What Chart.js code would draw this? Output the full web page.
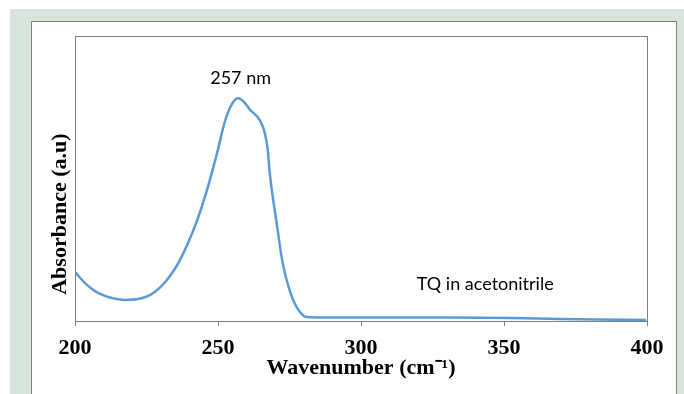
<!DOCTYPE html>
<html>
<head>
<meta charset="utf-8">
<title>TQ absorbance</title>
<script src="https://cdn.jsdelivr.net/npm/chart.js"></script>
<style>
  html, body { margin: 0; padding: 0; background: #fff; }
  #wrap { position: relative; width: 684px; height: 394px; overflow: hidden; }
  #green { position: absolute; left: 10px; top: 9px; right: 0; bottom: 0; background: #d6e4da; }
  #panel { position: absolute; left: 31px; top: 21px; width: 644px; height: 400px; background: #fff; border: 1px solid #7f7f7f; }
  canvas { position: absolute; left: 0; top: 0; }
</style>
</head>
<body>
<div id="wrap">
  <div id="green"></div>
  <div id="panel"></div>
  <canvas id="chart" width="684" height="394"></canvas>
</div>
<script>
// wavelength (nm)
const wavelengths = [200, 203.5, 207.0, 210.5, 214.0, 217.5, 222.0, 226.2, 229.7, 233.2, 236.6, 242.6, 246.1, 249.9, 252.4, 254.8, 256.9, 259.0, 261.1, 264.6, 266.3, 267.4, 268.1, 270.5, 272.6, 275.0, 277.5, 281.0, 289, 313.4, 331, 351.8, 369.3, 383.2, 399.7];
// absorbance (a.u), 0 = baseline of the plot, 1 = top of plot
const absorbance = [0.172, 0.133, 0.105, 0.088, 0.078, 0.074, 0.077, 0.091, 0.117, 0.158, 0.212, 0.350, 0.458, 0.598, 0.700, 0.760, 0.782, 0.770, 0.742, 0.705, 0.662, 0.600, 0.519, 0.344, 0.204, 0.109, 0.049, 0.014, 0.012, 0.012, 0.012, 0.0105, 0.007, 0.005, 0.0035];
const xTicks = [200, 250, 300, 350, 400];
const yTitle = 'Absorbance (a.u)';
const labels = [
  { text: '257 nm', x: 257.9, y: 0.853, align: 'center' },
  { text: 'TQ in acetonitrile', x: 319.5, y: 0.13, align: 'left' }
];

const points = wavelengths.map((w, i) => ({ x: w, y: absorbance[i] }));

const extras = {
  id: 'extras',
  afterDraw(chart) {
    const { ctx, chartArea: a, scales } = chart;
    ctx.save();
    ctx.strokeStyle = '#7f7f7f';
    ctx.lineWidth = 1;
    ctx.strokeRect(a.left + 0.5, a.top + 0.5, a.right - a.left, a.bottom - a.top);
    ctx.fillStyle = '#000';
    ctx.font = '18px Lato';
    ctx.textBaseline = 'middle';
    labels.forEach(l => {
      ctx.textAlign = l.align;
      ctx.fillText(l.text, scales.x.getPixelForValue(l.x), scales.y.getPixelForValue(l.y));
    });
    // y title sits a bit below the middle of the axis in the original
    ctx.translate(60, scales.y.getPixelForValue(0.375));
    ctx.rotate(-Math.PI / 2);
    ctx.textAlign = 'center';
    ctx.font = 'bold 22px "Liberation Serif"';
    ctx.fillText(yTitle, 0, 0);
    ctx.restore();
  }
};

new Chart(document.getElementById('chart'), {
  type: 'line',
  data: {
    datasets: [{
      data: points,
      borderColor: '#5b9bd5',
      borderWidth: 2.5,
      pointRadius: 0,
      cubicInterpolationMode: 'monotone',
      fill: false
    }]
  },
  options: {
    responsive: false,
    animation: false,
    events: [],
    layout: { padding: { left: 0, top: 36, right: 37, bottom: 0 } },
    plugins: { legend: { display: false }, tooltip: { enabled: false } },
    scales: {
      x: {
        type: 'linear',
        min: 200,
        max: 400,
        afterFit(s) { s.height = 73; },
        afterBuildTicks(s) { s.ticks = xTicks.map(v => ({ value: v })); },
        grid: { display: true, drawOnChartArea: false, drawTicks: true, tickLength: 5, color: '#7f7f7f' },
        border: { color: '#7f7f7f' },
        ticks: { color: '#000', padding: 9, font: { family: 'Liberation Serif', size: 22, weight: 'bold' } },
        title: {
          display: true,
          text: 'Wavenumber (cm⁻¹)',
          color: '#000',
          padding: { top: 0, bottom: 12 },
          font: { family: 'Liberation Serif', size: 22, weight: 'bold' }
        }
      },
      y: {
        min: 0,
        max: 1,
        afterFit(s) { s.width = 75; },
        grid: { display: false },
        border: { color: '#7f7f7f' },
        ticks: { display: false },
        title: { display: false }
      }
    }
  },
  plugins: [extras]
});
</script>
</body>
</html>
